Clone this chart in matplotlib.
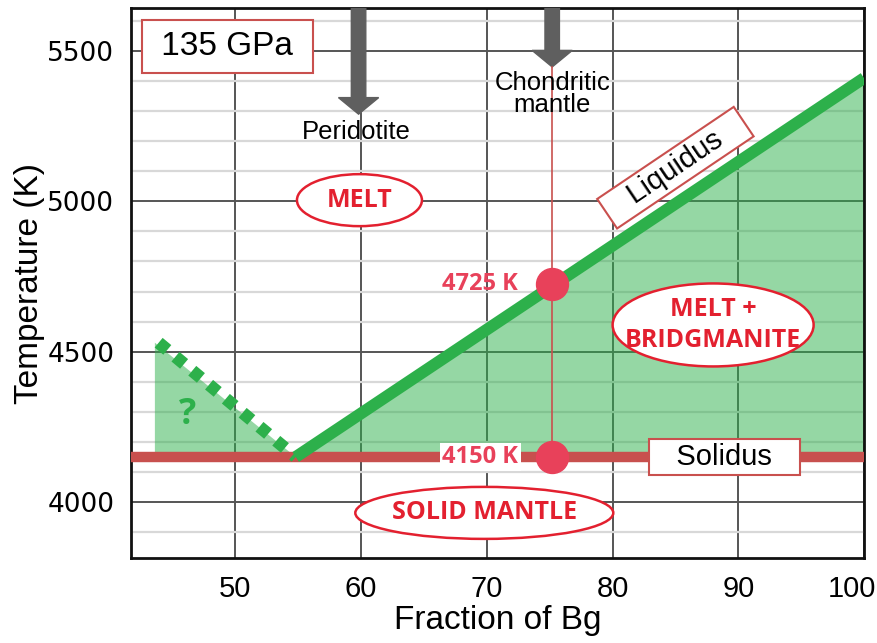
import matplotlib
matplotlib.use("Agg")
import matplotlib.pyplot as plt
from matplotlib.patches import Ellipse, FancyArrow, Polygon
from matplotlib.ticker import MultipleLocator
from matplotlib.transforms import ScaledTranslation

# ---- data ----
solidus_T = 4150
liquidus_x = [54.8, 100]
liquidus_T = [4150, 5410]
dashed_x = [43.9, 54.8]
dashed_T = [4530, 4150]
fill_left_x = 43.6
chondritic_x = 75.2
point_T = [4725, 4150]
point_labels = ["4725 K", "4150 K"]
peridotite_x = 59.8
arrow_tips = [5290, 5447]
arrow_x = [peridotite_x, chondritic_x]
x_ticks = [50, 60, 70, 80, 90, 100]
y_ticks = [4000, 4500, 5000, 5500]

GREEN = "#2db04b"
RED_LINE = "#c8504e"
PINK = "#e8415a"
TXT_RED = "#e3202f"

fig = plt.figure(figsize=(8.78, 6.43), dpi=100)
ax = fig.add_axes([131/878, 1-558/643, (864-131)/878, (558-8)/643])
ax.set_xlim(41.7, 100)
ax.set_ylim(3814, 5643)

# grid
ax.set_xticks(x_ticks)
ax.set_yticks(y_ticks)
ax.yaxis.set_minor_locator(MultipleLocator(100))
ax.grid(True, which="major", color="#555555", lw=1.4, zorder=0)
ax.grid(True, which="minor", axis="y", color="#d8d8d8", lw=1.6, zorder=0)
ax.set_axisbelow(True)
ax.tick_params(which="both", length=0)
ax.tick_params(axis="x", pad=12)
ax.tick_params(axis="y", pad=12)
xl = ax.get_xticklabels()
for lab in xl:
    lab.set_fontfamily("Liberation Sans")
    lab.set_fontsize(21)
xl[-1].set_transform(xl[-1].get_transform() + ScaledTranslation(-0.12, 0, fig.dpi_scale_trans))
for lab in ax.get_yticklabels():
    lab.set_fontfamily("DejaVu Sans")
    lab.set_fontsize(19)
for s in ax.spines.values():
    s.set_linewidth(2)
    s.set_color("#111111")

ax.set_xlabel("Fraction of Bg", fontsize=24, family="Liberation Sans", labelpad=2)
ax.set_ylabel("Temperature (K)", fontsize=24, family="Liberation Sans", labelpad=1.5)

# fills
ax.add_patch(Polygon([(liquidus_x[0], solidus_T), (liquidus_x[1], liquidus_T[1]), (liquidus_x[1], solidus_T)],
                     closed=True, facecolor=GREEN, alpha=0.5, edgecolor="none", zorder=1))
ax.add_patch(Polygon([(fill_left_x, solidus_T), (fill_left_x, dashed_T[0]), (dashed_x[1], dashed_T[1])],
                     closed=True, facecolor=GREEN, alpha=0.5, edgecolor="none", zorder=1))

# solidus & liquidus
ax.plot([ax.get_xlim()[0], 100], [solidus_T, solidus_T], color=RED_LINE, lw=7.5, solid_capstyle="butt", zorder=3)
ax.plot(liquidus_x, liquidus_T, color=GREEN, lw=8.5, solid_capstyle="butt", zorder=4)
ax.plot(dashed_x, dashed_T, color=GREEN, lw=9, linestyle=(0, (0.9, 0.85)), dash_capstyle="butt", zorder=4)
ax.text(46.2, 4290, "?", color=GREEN, fontsize=26, fontweight="bold", family="Open Sans", ha="center", va="center", zorder=5)

# arrows
for xa, tip in zip(arrow_x, arrow_tips):
    ax.add_patch(FancyArrow(xa, 5643, 0, tip - 5643, width=1.15, head_width=3.2, head_length=55,
                            length_includes_head=True, color="#5f5f5f", zorder=3))
ax.text(peridotite_x - 0.2, 5272, "Peridotite", fontsize=18.5, family="Liberation Sans", ha="center", va="top", zorder=6)
ax.text(chondritic_x, 5435, "Chondritic\nmantle", fontsize=18.5, family="Liberation Sans", ha="center", va="top",
        linespacing=0.92, zorder=6)

# chondritic vertical line and points
ax.plot([chondritic_x, chondritic_x], [arrow_tips[1], point_T[1]], color=RED_LINE, lw=1.2, zorder=5)
ax.plot([chondritic_x] * 2, point_T, "o", color=PINK, ms=23, zorder=6, linestyle="none")
ax.text(72.5, point_T[0], point_labels[0], color=PINK, fontsize=17, fontweight="bold", family="Open Sans",
        ha="right", va="center", zorder=6)
ax.text(72.5, point_T[1], point_labels[1], color=PINK, fontsize=17, fontweight="bold", family="Open Sans",
        ha="right", va="center", zorder=6,
        bbox=dict(boxstyle="square,pad=0.1", facecolor="white", edgecolor="none"))

# labels with boxes
ax.text(88.9, solidus_T, "   Solidus   ", fontsize=21, family="Liberation Sans", ha="center", va="center", zorder=7,
        bbox=dict(boxstyle="square,pad=0.13", facecolor="white", edgecolor="#c9504e", lw=1.5))
ax.text(49.37, 5515, " 135 GPa ", fontsize=24, family="Liberation Sans", ha="center", va="center", zorder=7,
        bbox=dict(boxstyle="square,pad=0.32", facecolor="white", edgecolor="#c9504e", lw=1.5))
ax.text(85.0, 5112, "   Liquidus   ", fontsize=21, family="Liberation Sans", ha="center", va="center", zorder=7,
        rotation=34, rotation_mode="anchor",
        bbox=dict(boxstyle="square,pad=0.13", facecolor="white", edgecolor="#c9504e", lw=1.5))

# ellipses (in pixel-based sizes converted to data units)
px_x = (100 - 41.7) / (864 - 131)
px_y = (5643 - 3814) / (558 - 8)
ellipses = [
    ((59.87, 5004), 125, 52, "MELT"),
    ((88.0, 4589), 201, 83, "MELT +\nBRIDGMANITE"),
    ((69.8, 3964), 258, 52, "SOLID MANTLE"),
]
for (cx, cy), w, h, txt in ellipses:
    ax.add_patch(Ellipse((cx, cy), w * px_x, h * px_y, facecolor="white", edgecolor=TXT_RED, lw=1.8, zorder=7))
    ax.text(cx, cy, txt, color=TXT_RED, fontsize=18, fontweight="bold", family="Open Sans",
            ha="center", va="center", linespacing=1.3, zorder=8)

fig.savefig("out.png", dpi=100)
